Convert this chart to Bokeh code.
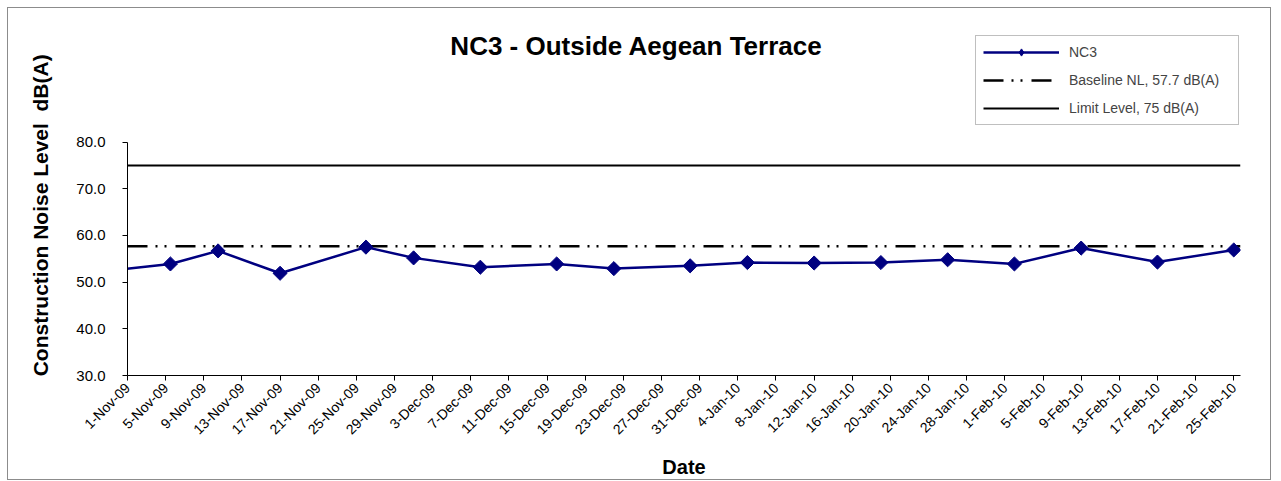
from math import pi
import pandas as pd
from bokeh.plotting import figure
from bokeh.models import (Range1d, FixedTicker, NumeralTickFormatter, CustomJSTickFormatter,
                          Label, Legend, LegendItem)
from bokeh.embed import file_html
from bokeh.resources import INLINE

# ---- data ----
sample_dates = ["2009-10-29", "2009-11-05 12:00", "2009-11-10 12:00", "2009-11-17",
                "2009-11-26", "2009-12-01", "2009-12-08", "2009-12-16", "2009-12-22",
                "2009-12-30", "2010-01-05", "2010-01-12", "2010-01-19", "2010-01-26",
                "2010-02-02", "2010-02-09", "2010-02-17", "2010-02-25"]
nc3_values = [52.2, 53.9, 56.7, 51.9, 57.5, 55.2, 53.2, 53.9, 52.9, 53.5,
              54.2, 54.1, 54.2, 54.8, 53.9, 57.3, 54.3, 56.9]
baseline_level = 57.7
limit_level = 75.0
axis_start = "2009-11-01"
axis_end = "2010-02-25 17:00"
tick_start = "2009-11-01"
tick_end = "2010-02-25"
tick_step_days = 4
y_ticks = [30, 40, 50, 60, 70, 80]
y_axis_bounds = (30, 80)

title_text = "NC3 - Outside Aegean Terrace"
y_label = "Construction Noise Level  dB(A)"
x_label = "Date"
legend_labels = ["NC3", "Baseline NL, 57.7 dB(A)", "Limit Level, 75 dB(A)"]

FONT = "Liberation Sans"
NAVY = "#000080"
NBSP = "\u00a0"

# layout (pixels)
W, H = 1264, 473
ML, MR, MT, MB = 119, 32, 0, 105
PX_PER_UNIT = 4.68
y_top = y_axis_bounds[0] + (H - MT - MB) / PX_PER_UNIT


def to_ms(s):
    return (pd.Timestamp(s) - pd.Timestamp("1970-01-01")) // pd.Timedelta("1ms")


x = [pd.Timestamp(d) for d in sample_dates]
x0, x1 = to_ms(axis_start), to_ms(axis_end)
tick_ms = [to_ms(t) for t in pd.date_range(tick_start, tick_end, freq=f"{tick_step_days}D")]

p = figure(width=W, height=H, x_axis_type="datetime",
           x_range=Range1d(x0, x1), y_range=Range1d(y_axis_bounds[0], y_top),
           output_backend="svg", toolbar_location=None,
           min_border_left=ML, min_border_right=MR, min_border_top=MT, min_border_bottom=MB)
p.styles = {"border": "1px solid #8c8c8c", "margin-left": "7px", "margin-top": "7px"}
p.xgrid.visible = False
p.ygrid.visible = False
p.outline_line_color = None
p.background_fill_color = "white"
p.border_fill_color = "white"

# axes
p.xaxis.ticker = FixedTicker(ticks=tick_ms)
p.xaxis.formatter = CustomJSTickFormatter(code="""
const m = ["Jan","Feb","Mar","Apr","May","Jun","Jul","Aug","Sep","Oct","Nov","Dec"];
const d = new Date(tick);
return d.getUTCDate() + "-" + m[d.getUTCMonth()] + "-" + String(d.getUTCFullYear()).slice(2);
""")
p.xaxis.major_label_orientation = pi / 4
p.yaxis.ticker = FixedTicker(ticks=y_ticks)
p.yaxis.formatter = NumeralTickFormatter(format="0.0")
p.yaxis.bounds = y_axis_bounds
for ax in (p.xaxis, p.yaxis):
    ax.minor_tick_line_color = None
    ax.major_tick_in = 0
    ax.major_tick_out = 5
    ax.axis_line_color = "black"
    ax.major_tick_line_color = "black"
    ax.major_label_text_font = FONT
    ax.major_label_text_color = "black"
    ax.axis_label_text_font = FONT
    ax.axis_label_text_font_style = "bold"
    ax.axis_label_text_color = "black"
    ax.axis_label_text_font_size = "20px"
p.xaxis.major_label_text_font_size = "14px"
p.yaxis.major_label_text_font_size = "15px"
p.yaxis.major_label_standoff = 17
p.xaxis.axis_label = x_label
# keep the double space visible and shift the centred label down to sit along the 30-80 axis
p.yaxis.axis_label = y_label.replace("  ", " " + NBSP) + NBSP * 8
p.yaxis.axis_label_text_font_size = "21px"
p.yaxis.axis_label_standoff = 21
p.xaxis.axis_label_standoff = 10

# series
r_limit = p.line([x0, x1], [limit_level, limit_level], line_color="black", line_width=2)
r_base = p.line([x0, x1], [baseline_level, baseline_level], line_color="black",
                line_width=2.5, line_dash="20 8 2 7 2 9")
r_line = p.line(x, nc3_values, line_color=NAVY, line_width=2.5)
# diamond marker (also used for the legend key), covered by the rotated square on top
r_key = p.scatter(x, nc3_values, marker="diamond", size=10, fill_color=NAVY, line_color=NAVY)
r_pts = p.scatter(x, nc3_values, marker="square", angle=pi / 4, size=10,
                  fill_color=NAVY, line_color=NAVY)

legend = Legend(items=[
    LegendItem(label=legend_labels[0], renderers=[r_line, r_key]),
    LegendItem(label=legend_labels[1], renderers=[r_base]),
    LegendItem(label=legend_labels[2], renderers=[r_limit]),
], location=(848, 250))
legend.border_line_color = "#808080"
legend.border_line_width = 1
legend.background_fill_color = "white"
legend.background_fill_alpha = 1
legend.label_text_font = FONT
legend.label_text_font_size = "14px"
legend.glyph_width = 76
legend.glyph_height = 18
legend.spacing = 10
legend.padding = 7
legend.label_standoff = 10
legend.label_width = 162
legend.margin = 0
p.add_layout(legend, "center")

title = Label(x=509, y=330, x_units="screen", y_units="screen", text=title_text,
              text_font=FONT, text_font_size="26px", text_font_style="bold",
              text_align="center", text_baseline="middle", text_color="black")
p.add_layout(title)

open("out.html", "w").write(file_html(p, INLINE))
